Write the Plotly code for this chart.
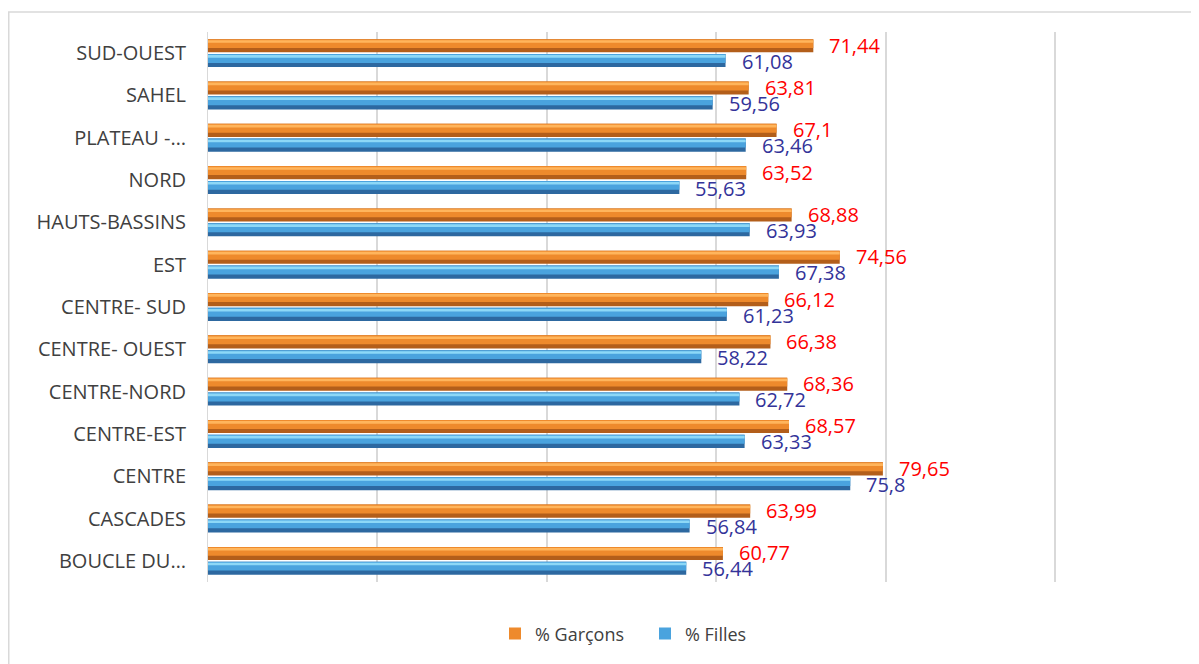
import plotly.graph_objects as go

regions = ["SUD-OUEST", "SAHEL", "PLATEAU -…", "NORD", "HAUTS-BASSINS", "EST",
           "CENTRE- SUD", "CENTRE- OUEST", "CENTRE-NORD", "CENTRE-EST", "CENTRE",
           "CASCADES", "BOUCLE DU…"]
garcons = [71.44, 63.81, 67.1, 63.52, 68.88, 74.56, 66.12, 66.38, 68.36, 68.57, 79.65, 63.99, 60.77]
filles = [61.08, 59.56, 63.46, 55.63, 63.93, 67.38, 61.23, 58.22, 62.72, 63.33, 75.8, 56.84, 56.44]
series_names = ["% Garçons", "% Filles"]

FONT = "Open Sans"
# page has an 8px body margin; figure coordinates are page coordinates minus 8
W, H = 1191, 656
ML, MR, MT, MB = 200, 142, 24, 80
PW, PH = W - ML - MR, H - MT - MB

fig = go.Figure()

def add_series(vals, name, offset, width, colors, legend_rank):
    dark, mid, light = colors
    fig.add_trace(go.Bar(y=regions, x=vals, orientation="h", offset=offset, width=width,
                         marker=dict(color=dark, line=dict(width=0)), showlegend=False,
                         hoverinfo="skip"))
    fig.add_trace(go.Bar(y=regions, x=vals, orientation="h", offset=offset, width=width * 0.68,
                         marker=dict(color=mid, line=dict(width=0)), name=name,
                         legendrank=legend_rank))
    fig.add_trace(go.Bar(y=regions, x=vals, orientation="h", offset=offset + width * 0.08,
                         width=width * 0.2, marker=dict(color=light, line=dict(width=0)),
                         showlegend=False, hoverinfo="skip"))

add_series(garcons, series_names[0], -0.33, 0.31, ("#B35E1A", "#EE8A2C", "#FFB55C"), 1)
add_series(filles, series_names[1], 0.02, 0.31, ("#2D68A0", "#4AA3DE", "#8DD8F7"), 2)

def fmt(v):
    return ("%g" % v).replace(".", ",")

for r, v in zip(regions, garcons):
    fig.add_annotation(x=v, y=r, text=fmt(v), showarrow=False, xanchor="left",
                       yanchor="middle", xshift=14, yshift=8,
                       font=dict(family=FONT, size=20, color="#FF0000"))
for r, v in zip(regions, filles):
    fig.add_annotation(x=v, y=r, text=fmt(v), showarrow=False, xanchor="left",
                       yanchor="middle", xshift=14, yshift=-8,
                       font=dict(family=FONT, size=20, color="#333399"))

# chart border
fig.add_shape(type="rect", xref="paper", yref="paper",
              x0=(0.75 - ML) / PW, x1=(W + 20 - ML) / PW,
              y0=-(H + 20 - MT - PH) / PH, y1=1 + (MT - 4) / PH,
              line=dict(color="#D9D9D9", width=1.5), fillcolor="rgba(0,0,0,0)", layer="below")

fig.update_layout(
    width=W, height=H,
    margin=dict(l=ML, r=MR, t=MT, b=MB),
    paper_bgcolor="white", plot_bgcolor="white",
    barmode="overlay",
    font=dict(family=FONT, color="#404040"),
    showlegend=True,
    legend=dict(orientation="h", x=(637 - ML) / PW, xanchor="center",
                y=-(628 - (MT + PH)) / PH, yanchor="middle",
                entrywidth=105, entrywidthmode="pixels",
                font=dict(family=FONT, size=18, color="#404040"), traceorder="normal"),
    xaxis=dict(range=[0, 100.2], dtick=20, showgrid=True, gridcolor="#D9D9D9", gridwidth=1.5,
               showticklabels=False, zeroline=False, showline=False, fixedrange=True),
    yaxis=dict(type="category", categoryorder="array", categoryarray=regions,
               range=[len(regions) - 0.5, -0.5], showgrid=False, showline=True,
               linecolor="#D9D9D9", linewidth=1, ticks="", ticklabelstandoff=17,
               tickfont=dict(family=FONT, size=20, color="#404040")),
)

fig.write_html("out.html")
